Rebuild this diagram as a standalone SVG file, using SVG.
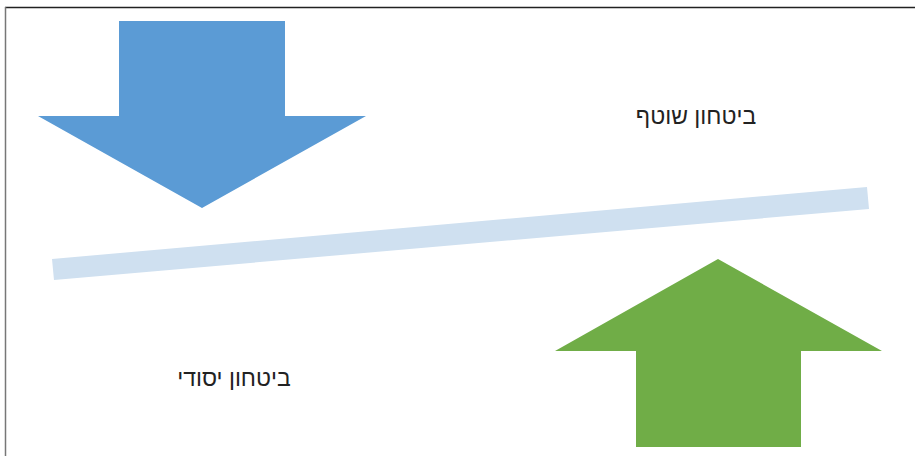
<svg xmlns="http://www.w3.org/2000/svg" width="915" height="456" viewBox="0 0 915 456">
<style>
.lbl{font-family:"Liberation Sans","DejaVu Sans",Arial,sans-serif;font-size:23px;fill:#222;text-anchor:middle}
</style>
<rect width="915" height="456" fill="#fff"/>
<line x1="5" y1="7.5" x2="915" y2="7.5" stroke="#222" stroke-width="1.5"/>
<line x1="5.5" y1="7" x2="5.5" y2="456" stroke="#777" stroke-width="1.5"/>
<g id="connectors">
<polygon id="lever" points="52,259 867,187 869,209 54,280" fill="#CFE0F0"/>
</g>
<g id="arrow-down">
<polygon points="119,21 285,21 285,116 366,116 202,208 38,116 119,116" fill="#5B9BD5"/>
</g>
<g id="arrow-up">
<polygon points="718,259 882,351 801,351 801,447 636,447 636,351 555,351" fill="#70AD47"/>
</g>
<g id="label-top">
<text class="lbl" x="696" y="124">ביטחון שוטף</text>
</g>
<g id="label-bottom">
<text class="lbl" x="234" y="386">ביטחון יסודי</text>
</g>
</svg>
